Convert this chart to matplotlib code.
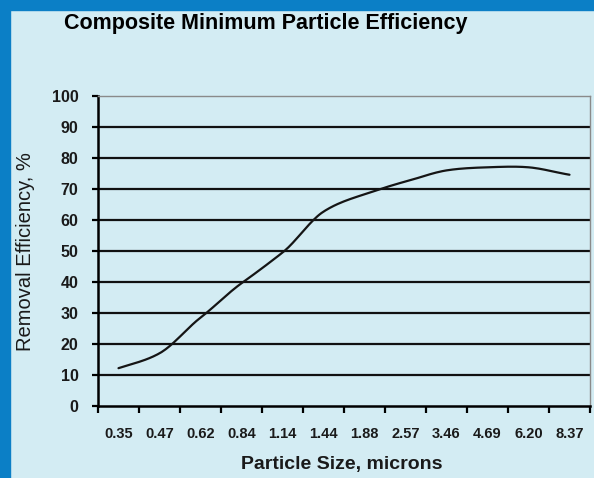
import matplotlib
matplotlib.use("Agg")
import matplotlib.pyplot as plt
from matplotlib.patches import Rectangle
import numpy as np

plt.rcParams['font.family'] = ['Liberation Sans', 'DejaVu Sans']

# data
sizes = ["0.35", "0.47", "0.62", "0.84", "1.14", "1.44",
         "1.88", "2.57", "3.46", "4.69", "6.20", "8.37"]
efficiency = [12.2, 17.0, 28.5, 39.6, 49.5, 62.7,
              68.3, 72.4, 76.0, 77.0, 77.0, 74.6]
y_ticks = [0, 10, 20, 30, 40, 50, 60, 70, 80, 90, 100]

bg = "#d3ecf3"
blue = "#0b7fc6"


def smooth(xs, ys, n=20, k=0.9):
    # hermite curve through the points, tangents softened by k
    xs = np.asarray(xs, float)
    ys = np.asarray(ys, float)
    m = np.gradient(ys, xs) * k
    ox, oy = [], []
    t = np.linspace(0, 1, n, endpoint=False)
    for i in range(len(xs) - 1):
        h = xs[i + 1] - xs[i]
        h00 = 2 * t ** 3 - 3 * t ** 2 + 1
        h10 = t ** 3 - 2 * t ** 2 + t
        h01 = -2 * t ** 3 + 3 * t ** 2
        h11 = t ** 3 - t ** 2
        ox.extend(xs[i] + t * h)
        oy.extend(h00 * ys[i] + h10 * h * m[i] + h01 * ys[i + 1] + h11 * h * m[i + 1])
    ox.append(xs[-1])
    oy.append(ys[-1])
    return ox, oy


fig = plt.figure(figsize=(5.94, 4.78), dpi=100, facecolor=bg)
ax = fig.add_axes([98 / 594, 1 - 406 / 478, 492 / 594, 310 / 478])
ax.set_facecolor(bg)

# frame bands
fig.patches.append(Rectangle((0, 0), 10 / 594, 1, transform=fig.transFigure,
                             color=blue, zorder=0))
fig.patches.append(Rectangle((0, 1 - 10 / 478), 1, 10 / 478,
                             transform=fig.transFigure, color=blue, zorder=0))

x = np.arange(len(sizes))
sx, sy = smooth(x, efficiency)
ax.plot(sx, sy, color="#151515", lw=1.6, solid_capstyle="round", zorder=3)

ax.set_xlim(-0.5, len(sizes) - 0.5)
ax.set_ylim(0, 100)

ax.set_yticks(y_ticks)
ax.set_yticklabels([str(v) for v in y_ticks], fontsize=11.5, fontweight="bold",
                   color="#1a1a1a")
for v in y_ticks[1:-1]:
    ax.axhline(v, color="#111111", lw=1.6, zorder=1)

ax.set_xticks(np.arange(-0.5, len(sizes)))
ax.set_xticklabels([])
ax.set_xticks(x, minor=True)
ax.set_xticklabels(sizes, minor=True, fontsize=10.5, fontweight="bold",
                   color="#1a1a1a")
ax.tick_params(axis="x", which="major", length=5, width=1.6, direction="out")
ax.tick_params(axis="x", which="minor", length=0, pad=15)
ax.tick_params(axis="y", length=4, width=1.6, pad=10)

ax.spines["left"].set_linewidth(1.8)
ax.spines["bottom"].set_linewidth(1.8)
ax.spines["top"].set_color("#8a8a8a")
ax.spines["top"].set_linewidth(1.0)
ax.spines["right"].set_color("#8a8a8a")
ax.spines["right"].set_linewidth(1.0)

fig.text(266 / 594, 1 - 24 / 478, "Composite Minimum Particle Efficiency",
         ha="center", va="center", fontsize=15.5, fontweight="bold")
fig.text(26 / 594, 1 - 252 / 478, "Removal Efficiency, %", rotation=90,
         ha="center", va="center", fontsize=14.5, color="#1a1a1a")
fig.text(342 / 594, 1 - 465 / 478, "Particle Size, microns",
         ha="center", va="center", fontsize=14, fontweight="bold",
         color="#1a1a1a")

fig.savefig("out.png", dpi=100, facecolor=bg)
